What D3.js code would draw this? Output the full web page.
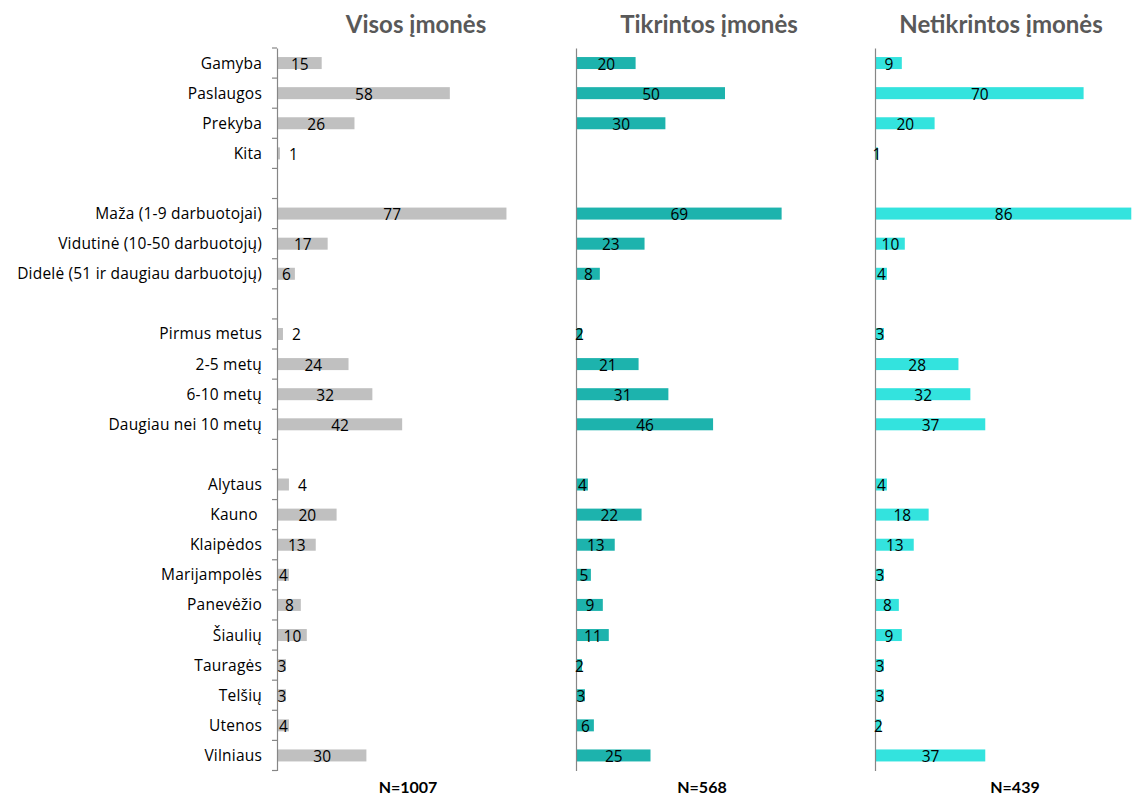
<!DOCTYPE html>
<html><head><meta charset="utf-8">
<script src="https://cdn.jsdelivr.net/npm/d3@7"></script>
<style>
body{margin:0;background:#fff;}
text{font-family:"Open Sans",Lato,sans-serif;}
</style></head>
<body><svg id="c" width="1135" height="795"></svg>
<script>
const categories = ["Gamyba","Paslaugos","Prekyba","Kita","","Maža (1-9 darbuotojai)","Vidutinė (10-50 darbuotojų)","Didelė (51 ir daugiau darbuotojų)","","Pirmus metus","2-5 metų","6-10 metų","Daugiau nei 10 metų","","Alytaus","Kauno ","Klaipėdos","Marijampolės","Panevėžio","Šiaulių","Tauragės","Telšių","Utenos","Vilniaus"];
const visos =       [15,58,26,1,null,77,17,6,null,2,24,32,42,null,4,20,13,4,8,10,3,3,4,30];
const tikrintos =   [20,50,30,null,null,69,23,8,null,2,21,31,46,null,4,22,13,5,9,11,2,3,6,25];
const netikrintos = [9,70,20,1,null,86,10,4,null,3,28,32,37,null,4,18,13,3,8,9,3,3,2,37];
const panelTitles = ["Visos įmonės","Tikrintos įmonės","Netikrintos įmonės"];
const panelN = ["N=1007","N=568","N=439"];
// categories whose label sits outside the bar (first panel)
const outsideLabels = ["Kita","Pirmus metus","Alytaus"];

const panels = [
  {values: visos, x0: 277, color: "#c0c0c0", ticks: true, titleX: 416, nX: 408},
  {values: tikrintos, x0: 576, color: "#1db3ad", ticks: false, titleX: 709, nX: 702},
  {values: netikrintos, x0: 875, color: "#33e3de", ticks: false, titleX: 1001, nX: 1015}
];

const svg = d3.select("#c");
const yRow = d3.scaleBand().domain(d3.range(categories.length)).range([48, 770.5]);
const x = d3.scaleLinear().domain([0, 100]).range([0, 298]);

svg.append("g").selectAll("text").data(categories).join("text")
  .attr("x", 262).attr("y", (d,i)=> yRow(i) + yRow.bandwidth()/2 + 5.5)
  .attr("text-anchor","end").attr("font-size", 15.5).attr("fill","#000")
  .style("letter-spacing","0.2px")
  .style("white-space","pre")
  .text(d=>d);

panels.forEach((p, pi) => {
  const g = svg.append("g").attr("transform", `translate(${p.x0},0)`);
  const data = p.values.map((v,i)=>({v, i, cat: categories[i]}));
  g.selectAll("rect").data(data.filter(d=>d.v!=null)).join("rect")
    .attr("x", 0).attr("y", d=> yRow(d.i) + yRow.bandwidth()/2 - 6)
    .attr("width", d=> x(d.v)).attr("height", 12)
    .attr("fill", p.color);
  const axis = d3.axisLeft(yRow).tickSize(0).tickFormat("");
  const ag = g.append("g").call(axis);
  ag.select(".domain").attr("stroke","#868686").attr("stroke-width",1.2);
  if (p.ticks) {
    const bounds = d3.range(categories.length+1).map(i => i < categories.length ? yRow(i) : yRow(categories.length-1)+yRow.step());
    g.selectAll("line.tk").data(bounds).join("line").attr("class","tk")
      .attr("x1",-5).attr("x2",0).attr("y1",d=>d).attr("y2",d=>d)
      .attr("stroke","#868686").attr("stroke-width",1.2);
  }
  g.selectAll("text.lbl").data(data.filter(d=>d.v!=null)).join("text").attr("class","lbl")
    .attr("x", d => (pi===0 && outsideLabels.includes(d.cat)) ? x(d.v) + 9 : x(d.v)/2 + 0.5)
    .attr("text-anchor", d => (pi===0 && outsideLabels.includes(d.cat)) ? "start" : "middle")
    .attr("y", d=> yRow(d.i) + yRow.bandwidth()/2 + 6.5)
    .attr("font-size", 15.5).attr("fill","#000")
    .text(d=>d.v);
  svg.append("text").attr("x", p.titleX).attr("y", 33).attr("text-anchor","middle")
    .style("font-family","Lato").attr("font-size", 24).attr("font-weight","bold").attr("fill","#595959").text(panelTitles[pi]);
  svg.append("text").attr("x", p.nX).attr("y", 793).attr("text-anchor","middle")
    .style("font-family","Lato").attr("font-size", 16).attr("font-weight","bold").attr("fill","#000").text(panelN[pi]);
});
</script></body></html>
